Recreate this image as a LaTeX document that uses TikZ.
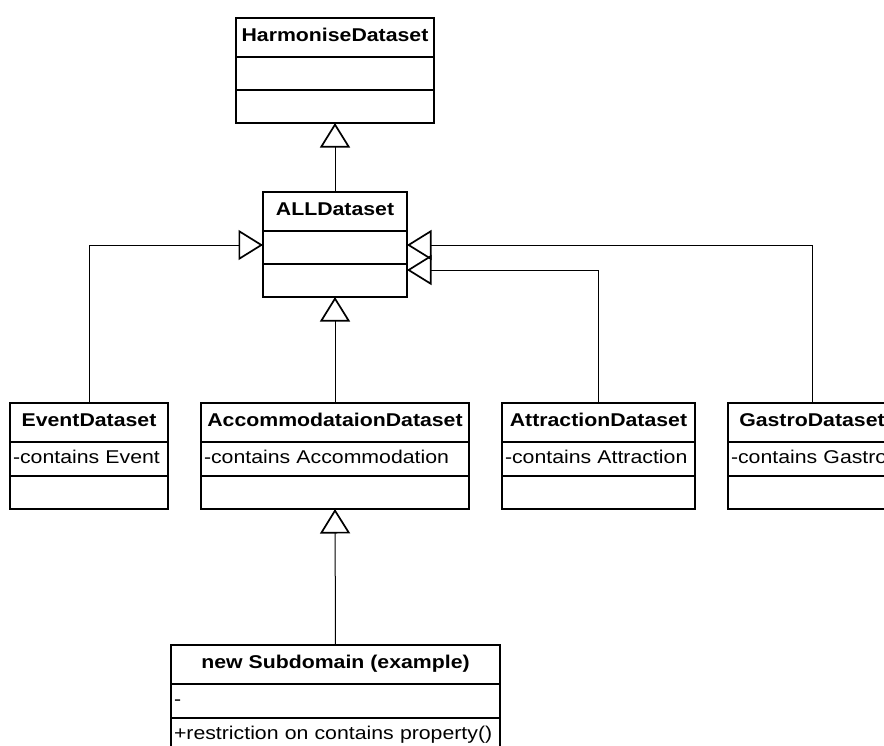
\documentclass[tikz,border=0pt]{standalone}
\usepackage{fontspec}
\setmainfont{Liberation Sans}[FakeStretch=1.15]
\usetikzlibrary{arrows.meta}
\begin{document}
\begin{tikzpicture}[x=1pt,y=-1pt,font=\fontsize{18.5}{22}\selectfont,
  cls/.style={draw, line width=1.8pt, inner sep=0pt, outer sep=0pt, text height=13.3pt, text depth=4.7pt, anchor=north},
  ctitle/.style={cls, minimum height=39pt, minimum width=#1, font=\fontsize{18.5}{22}\selectfont\bfseries},
  cattr/.style={cls, minimum height=34pt, inner xsep=3pt, text width=#1, align=left},
  cempty/.style={cls, minimum height=33pt, minimum width=#1},
  inh/.style={line width=1pt, -{Triangle[open, length=24.5pt, width=30pt, line width=1.7pt]}}]
\useasboundingbox (0,0) rectangle (884,745);
\clip (0,0) rectangle (884,745);
% HarmoniseDataset
\node[ctitle=198pt] (harmT) at (335,18) {HarmoniseDataset};
\node[cempty=198pt] (harmA) at (harmT.south) {};
\node[cempty=198pt] (harmO) at (harmA.south) {};
% ALLDataset
\node[ctitle=144pt] (allT) at (335,192) {ALLDataset};
\node[cempty=144pt] (allA) at (allT.south) {};
\node[cempty=144pt] (allO) at (allA.south) {};
% EventDataset
\node[ctitle=158pt] (evT) at (89,403) {EventDataset};
\node[cattr=152pt] (evA) at (evT.south) {-contains Event};
\node[cempty=158pt] (evO) at (evA.south) {};
% AccommodataionDataset
\node[ctitle=268pt] (acT) at (335,403) {AccommodataionDataset};
\node[cattr=262pt] (acA) at (acT.south) {-contains Accommodation};
\node[cempty=268pt] (acO) at (acA.south) {};
% AttractionDataset
\node[ctitle=193pt] (atT) at (598.5,403) {AttractionDataset};
\node[cattr=187pt] (atA) at (atT.south) {-contains Attraction};
\node[cempty=193pt] (atO) at (atA.south) {};
% GastroDataset
\node[ctitle=168pt] (gaT) at (812,403) {GastroDataset};
\node[cattr=162pt] (gaA) at (gaT.south) {-contains Gastro};
\node[cempty=168pt] (gaO) at (gaA.south) {};
% new Subdomain
\node[ctitle=329pt] (suT) at (335.5,645) {new Subdomain (example)};
\node[cattr=323pt] (suA) at (suT.south) {-};
\node[cattr=323pt] (suO) at (suA.south) {+restriction on contains property()};
% connectors
\draw[inh] (allT.north) -- (harmO.south);
\draw[inh] (acT.north) -- (allO.south);
\draw[inh] (suT.north) -- (acO.south);
\draw[inh] (evT.north) |- ([yshift=2.5pt]allA.west);
\draw[inh] (gaT.north) |- ([yshift=2.5pt]allA.east);
\draw[inh] (atT.north) |- ([yshift=10.5pt]allO.east);
\end{tikzpicture}
\end{document}
